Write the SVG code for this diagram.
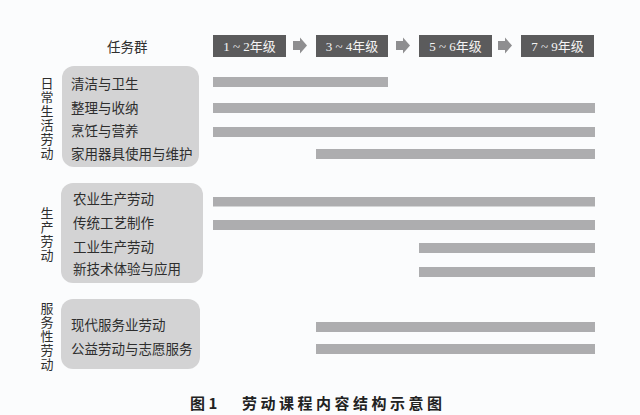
<svg xmlns="http://www.w3.org/2000/svg" width="640" height="415" viewBox="0 0 640 415">
<style>
.bg{fill:#fbfcfd}
.grp{fill:#d3d3d4}
.hdr{fill:#5b5b5c}
.hdrt{fill:#f4f4f4;font-family:"Liberation Serif","Noto Sans CJK SC",serif;font-size:13px;text-anchor:middle;dominant-baseline:central}
.bar{fill:#adadaf}
.arr{fill:#8e8e90}
.t{fill:#2e2e2e;font-family:"Noto Sans CJK SC",sans-serif;font-size:13.5px;dominant-baseline:central}
.v{fill:#2e2e2e;font-family:"Noto Sans CJK SC",sans-serif;font-size:13px;writing-mode:vertical-rl;letter-spacing:1px}
.cap{fill:#222;font-family:"Noto Sans CJK SC",sans-serif;font-size:15px;font-weight:bold;dominant-baseline:central}
</style>
<rect class="bg" x="0" y="0" width="640" height="415"/>

<text class="t" x="107" y="46">任务群</text>

<g id="grade12"><rect class="hdr" x="213" y="35" width="73" height="22"/><text class="hdrt" x="249.5" y="46">1 ~ 2年级</text></g>
<g id="grade34"><rect class="hdr" x="316" y="35" width="72" height="22"/><text class="hdrt" x="352" y="46">3 ~ 4年级</text></g>
<g id="grade56"><rect class="hdr" x="419" y="35" width="73" height="22"/><text class="hdrt" x="455.5" y="46">5 ~ 6年级</text></g>
<g id="grade79"><rect class="hdr" x="521" y="35" width="73" height="22"/><text class="hdrt" x="557.5" y="46">7 ~ 9年级</text></g>

<g id="connectors">
<polygon class="arr" points="293,41 300,41 300,37.5 307,45.5 300,53.5 300,50 293,50"/>
<polygon class="arr" points="396,41 403,41 403,37.5 410,45.5 403,53.5 403,50 396,50"/>
<polygon class="arr" points="498,41 505,41 505,37.5 512,45.5 505,53.5 505,50 498,50"/>
</g>

<g id="daily">
<rect class="grp" x="62" y="66" width="137" height="101" rx="12"/>
<text class="v" x="47" y="77">日常生活劳动</text>
<text class="t" x="71" y="83">清洁与卫生</text>
<text class="t" x="71" y="107">整理与收纳</text>
<text class="t" x="71" y="130">烹饪与营养</text>
<text class="t" x="71" y="153">家用器具使用与维护</text>
</g>

<g id="production">
<rect class="grp" x="61" y="183" width="142" height="100" rx="12"/>
<text class="v" x="47" y="207">生产劳动</text>
<text class="t" x="73" y="198">农业生产劳动</text>
<text class="t" x="73" y="222">传统工艺制作</text>
<text class="t" x="73" y="246">工业生产劳动</text>
<text class="t" x="73" y="268">新技术体验与应用</text>
</g>

<g id="service">
<rect class="grp" x="61" y="299" width="139" height="70" rx="12"/>
<text class="v" x="47" y="302">服务性劳动</text>
<text class="t" x="71" y="324">现代服务业劳动</text>
<text class="t" x="71" y="348">公益劳动与志愿服务</text>
</g>

<g id="bars">
<rect class="bar" x="213" y="77" width="175" height="10"/>
<rect class="bar" x="213" y="103" width="382" height="10"/>
<rect class="bar" x="213" y="127" width="382" height="10"/>
<rect class="bar" x="316" y="149" width="279" height="10"/>
<rect class="bar" x="213" y="197" width="382" height="9.5"/>
<rect class="bar" x="213" y="220" width="382" height="10"/>
<rect class="bar" x="419" y="243" width="176" height="10"/>
<rect class="bar" x="419" y="267" width="176" height="10"/>
<rect class="bar" x="316" y="322" width="279" height="10"/>
<rect class="bar" x="316" y="344" width="279" height="10"/>
</g>

<text class="cap" x="190" y="402">图 1</text>
<text class="cap" x="242" y="402" letter-spacing="3.5">劳动课程内容结构示意图</text>
</svg>
